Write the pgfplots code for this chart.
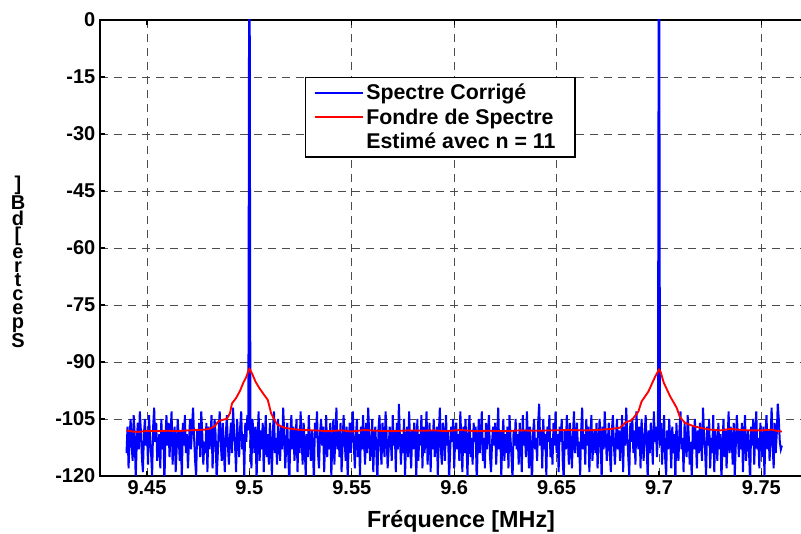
\documentclass[border=0pt]{standalone}
\usepackage{pgfplots}
\usepackage{pgfplotstable}
\pgfplotsset{compat=1.18}
\usepackage{fontspec}
\setmainfont{Liberation Sans}
\pgfplotstableread[row sep=\\]{
x y\\
9.4400 -114\\ 9.4405 -107\\ 9.4410 -118\\ 9.4415 -110\\ 9.4420 -105\\ 9.4425 -112\\ 9.4430 -116\\ 9.4435 -104\\ 9.4440 -109\\ 9.4445 -121\\
9.4450 -111\\ 9.4455 -106\\ 9.4460 -113\\ 9.4465 -103\\ 9.4470 -108\\ 9.4475 -115\\ 9.4480 -119\\ 9.4485 -109\\ 9.4490 -105\\ 9.4495 -112\\
9.4500 -108\\ 9.4505 -117\\ 9.4510 -104\\ 9.4515 -110\\ 9.4520 -114\\ 9.4525 -120\\ 9.4530 -107\\ 9.4535 -102\\ 9.4540 -111\\ 9.4545 -106\\
9.4550 -116\\ 9.4555 -112\\ 9.4560 -109\\ 9.4565 -118\\ 9.4570 -105\\ 9.4575 -113\\ 9.4580 -108\\ 9.4585 -122\\ 9.4590 -110\\ 9.4595 -104\\
9.4600 -112\\ 9.4605 -106\\ 9.4610 -115\\ 9.4615 -109\\ 9.4620 -103\\ 9.4625 -117\\ 9.4630 -111\\ 9.4635 -107\\ 9.4640 -119\\ 9.4645 -113\\
9.4650 -105\\ 9.4655 -110\\ 9.4660 -116\\ 9.4665 -108\\ 9.4670 -121\\ 9.4675 -106\\ 9.4680 -112\\ 9.4685 -104\\ 9.4690 -114\\ 9.4695 -109\\
9.4700 -118\\ 9.4705 -111\\ 9.4710 -105\\ 9.4715 -113\\ 9.4720 -107\\ 9.4725 -102\\ 9.4730 -110\\ 9.4735 -116\\ 9.4740 -120\\ 9.4745 -108\\
9.4750 -112\\ 9.4755 -106\\ 9.4760 -115\\ 9.4765 -103\\ 9.4770 -109\\ 9.4775 -117\\ 9.4780 -111\\ 9.4785 -114\\ 9.4790 -106\\ 9.4795 -119\\
9.4800 -107\\ 9.4805 -113\\ 9.4810 -110\\ 9.4815 -104\\ 9.4820 -118\\ 9.4825 -112\\ 9.4830 -105\\ 9.4835 -109\\ 9.4840 -121\\ 9.4845 -115\\
9.4850 -108\\ 9.4855 -103\\ 9.4860 -111\\ 9.4865 -116\\ 9.4870 -106\\ 9.4875 -113\\ 9.4880 -119\\ 9.4885 -109\\ 9.4890 -104\\ 9.4895 -112\\
9.4900 -117\\ 9.4905 -110\\ 9.4910 -106\\ 9.4915 -114\\ 9.4920 -102\\ 9.4925 -108\\ 9.4930 -112\\ 9.4935 -119\\ 9.4940 -105\\ 9.4945 -111\\
9.4950 -115\\ 9.4955 -107\\ 9.4960 -103\\ 9.4965 -113\\ 9.4970 -109\\ 9.4975 -120\\ 9.4980 -106\\ 9.4985 -111\\ 9.4990 -104\\ 9.4995 -108\\
9.4999 20\\ 9.5001 20\\
9.5005 -112\\ 9.5010 -118\\ 9.5015 -105\\ 9.5020 -109\\ 9.5025 -114\\ 9.5030 -107\\ 9.5035 -121\\ 9.5040 -111\\ 9.5045 -103\\
9.5050 -116\\ 9.5055 -108\\ 9.5060 -113\\ 9.5065 -106\\ 9.5070 -119\\ 9.5075 -110\\ 9.5080 -104\\ 9.5085 -115\\ 9.5090 -109\\ 9.5095 -117\\
9.5100 -106\\ 9.5105 -112\\ 9.5110 -120\\ 9.5115 -108\\ 9.5120 -103\\ 9.5125 -114\\ 9.5130 -110\\ 9.5135 -117\\ 9.5140 -105\\ 9.5145 -111\\
9.5150 -116\\ 9.5155 -107\\ 9.5160 -113\\ 9.5165 -102\\ 9.5170 -109\\ 9.5175 -118\\ 9.5180 -112\\ 9.5185 -106\\ 9.5190 -115\\ 9.5195 -122\\
9.5200 -109\\ 9.5205 -104\\ 9.5210 -113\\ 9.5215 -107\\ 9.5220 -116\\ 9.5225 -111\\ 9.5230 -105\\ 9.5235 -119\\ 9.5240 -108\\ 9.5245 -114\\
9.5250 -103\\ 9.5255 -110\\ 9.5260 -117\\ 9.5265 -106\\ 9.5270 -112\\ 9.5275 -120\\ 9.5280 -109\\ 9.5285 -115\\ 9.5290 -104\\ 9.5295 -111\\
9.5300 -116\\ 9.5305 -108\\ 9.5310 -113\\ 9.5315 -121\\ 9.5320 -106\\ 9.5325 -110\\ 9.5330 -103\\ 9.5335 -114\\ 9.5340 -118\\ 9.5345 -109\\
9.5350 -105\\ 9.5355 -112\\ 9.5360 -107\\ 9.5365 -119\\ 9.5370 -111\\ 9.5375 -104\\ 9.5380 -115\\ 9.5385 -108\\ 9.5390 -113\\ 9.5395 -106\\
9.5400 -120\\ 9.5405 -111\\ 9.5410 -105\\ 9.5415 -117\\ 9.5420 -109\\ 9.5425 -102\\ 9.5430 -113\\ 9.5435 -108\\ 9.5440 -115\\ 9.5445 -106\\
9.5450 -119\\ 9.5455 -112\\ 9.5460 -104\\ 9.5465 -110\\ 9.5470 -116\\ 9.5475 -107\\ 9.5480 -121\\ 9.5485 -111\\ 9.5490 -106\\ 9.5495 -114\\
9.5500 -108\\ 9.5505 -103\\ 9.5510 -112\\ 9.5515 -118\\ 9.5520 -110\\ 9.5525 -105\\ 9.5530 -115\\ 9.5535 -109\\ 9.5540 -120\\ 9.5545 -107\\
9.5550 -113\\ 9.5555 -104\\ 9.5560 -111\\ 9.5565 -117\\ 9.5570 -106\\ 9.5575 -114\\ 9.5580 -102\\ 9.5585 -109\\ 9.5590 -116\\ 9.5595 -112\\
9.5600 -105\\ 9.5605 -119\\ 9.5610 -110\\ 9.5615 -107\\ 9.5620 -114\\ 9.5625 -122\\ 9.5630 -108\\ 9.5635 -104\\ 9.5640 -112\\ 9.5645 -117\\
9.5650 -106\\ 9.5655 -111\\ 9.5660 -115\\ 9.5665 -103\\ 9.5670 -109\\ 9.5675 -118\\ 9.5680 -113\\ 9.5685 -107\\ 9.5690 -110\\ 9.5695 -116\\
9.5700 -104\\ 9.5705 -112\\ 9.5710 -108\\ 9.5715 -119\\ 9.5720 -106\\ 9.5725 -113\\ 9.5730 -101\\ 9.5735 -110\\ 9.5740 -117\\ 9.5745 -109\\
9.5750 -114\\ 9.5755 -105\\ 9.5760 -120\\ 9.5765 -111\\ 9.5770 -107\\ 9.5775 -115\\ 9.5780 -103\\ 9.5785 -112\\ 9.5790 -118\\ 9.5795 -108\\
9.5800 -113\\ 9.5805 -106\\ 9.5810 -110\\ 9.5815 -121\\ 9.5820 -105\\ 9.5825 -116\\ 9.5830 -109\\ 9.5835 -112\\ 9.5840 -104\\ 9.5845 -118\\
9.5850 -107\\ 9.5855 -114\\ 9.5860 -110\\ 9.5865 -103\\ 9.5870 -117\\ 9.5875 -111\\ 9.5880 -106\\ 9.5885 -119\\ 9.5890 -108\\ 9.5895 -113\\
9.5900 -105\\ 9.5905 -115\\ 9.5910 -111\\ 9.5915 -107\\ 9.5920 -120\\ 9.5925 -109\\ 9.5930 -102\\ 9.5935 -113\\ 9.5940 -117\\ 9.5945 -106\\
9.5950 -110\\ 9.5955 -116\\ 9.5960 -104\\ 9.5965 -112\\ 9.5970 -108\\ 9.5975 -121\\ 9.5980 -114\\ 9.5985 -107\\ 9.5990 -111\\ 9.5995 -105\\
9.6000 -118\\ 9.6005 -110\\ 9.6010 -106\\ 9.6015 -113\\ 9.6020 -109\\ 9.6025 -116\\ 9.6030 -103\\ 9.6035 -111\\ 9.6040 -119\\ 9.6045 -107\\
9.6050 -114\\ 9.6055 -105\\ 9.6060 -112\\ 9.6065 -120\\ 9.6070 -108\\ 9.6075 -104\\ 9.6080 -115\\ 9.6085 -110\\ 9.6090 -117\\ 9.6095 -106\\
9.6100 -111\\ 9.6105 -107\\ 9.6110 -122\\ 9.6115 -112\\ 9.6120 -105\\ 9.6125 -114\\ 9.6130 -109\\ 9.6135 -103\\ 9.6140 -116\\ 9.6145 -110\\
9.6150 -118\\ 9.6155 -106\\ 9.6160 -113\\ 9.6165 -108\\ 9.6170 -104\\ 9.6175 -115\\ 9.6180 -119\\ 9.6185 -111\\ 9.6190 -107\\ 9.6195 -112\\
9.6200 -106\\ 9.6205 -117\\ 9.6210 -110\\ 9.6215 -102\\ 9.6220 -113\\ 9.6225 -108\\ 9.6230 -120\\ 9.6235 -111\\ 9.6240 -105\\ 9.6245 -116\\
9.6250 -109\\ 9.6255 -114\\ 9.6260 -107\\ 9.6265 -118\\ 9.6270 -104\\ 9.6275 -110\\ 9.6280 -115\\ 9.6285 -121\\ 9.6290 -108\\ 9.6295 -112\\
9.6300 -105\\ 9.6305 -113\\ 9.6310 -109\\ 9.6315 -117\\ 9.6320 -106\\ 9.6325 -111\\ 9.6330 -119\\ 9.6335 -104\\ 9.6340 -112\\ 9.6345 -108\\
9.6350 -115\\ 9.6355 -103\\ 9.6360 -110\\ 9.6365 -118\\ 9.6370 -107\\ 9.6375 -114\\ 9.6380 -122\\ 9.6385 -109\\ 9.6390 -105\\ 9.6395 -113\\
9.6400 -110\\ 9.6405 -116\\ 9.6410 -106\\ 9.6415 -101\\ 9.6420 -112\\ 9.6425 -108\\ 9.6430 -118\\ 9.6435 -105\\ 9.6440 -113\\ 9.6445 -109\\
9.6450 -120\\ 9.6455 -107\\ 9.6460 -111\\ 9.6465 -104\\ 9.6470 -115\\ 9.6475 -110\\ 9.6480 -117\\ 9.6485 -106\\ 9.6490 -112\\ 9.6495 -103\\
9.6500 -114\\ 9.6505 -109\\ 9.6510 -119\\ 9.6515 -107\\ 9.6520 -111\\ 9.6525 -105\\ 9.6530 -116\\ 9.6535 -121\\ 9.6540 -108\\ 9.6545 -113\\
9.6550 -104\\ 9.6555 -110\\ 9.6560 -117\\ 9.6565 -106\\ 9.6570 -112\\ 9.6575 -118\\ 9.6580 -109\\ 9.6585 -103\\ 9.6590 -114\\ 9.6595 -110\\
9.6600 -106\\ 9.6605 -115\\ 9.6610 -111\\ 9.6615 -120\\ 9.6620 -108\\ 9.6625 -102\\ 9.6630 -113\\ 9.6635 -109\\ 9.6640 -117\\ 9.6645 -105\\
9.6650 -112\\ 9.6655 -107\\ 9.6660 -119\\ 9.6665 -110\\ 9.6670 -104\\ 9.6675 -116\\ 9.6680 -111\\ 9.6685 -108\\ 9.6690 -114\\ 9.6695 -106\\
9.6700 -118\\ 9.6705 -112\\ 9.6710 -105\\ 9.6715 -110\\ 9.6720 -121\\ 9.6725 -107\\ 9.6730 -113\\ 9.6735 -103\\ 9.6740 -109\\ 9.6745 -116\\
9.6750 -111\\ 9.6755 -106\\ 9.6760 -114\\ 9.6765 -119\\ 9.6770 -108\\ 9.6775 -104\\ 9.6780 -112\\ 9.6785 -117\\ 9.6790 -110\\ 9.6795 -105\\
9.6800 -113\\ 9.6805 -108\\ 9.6810 -116\\ 9.6815 -111\\ 9.6820 -104\\ 9.6825 -119\\ 9.6830 -107\\ 9.6835 -112\\ 9.6840 -102\\ 9.6845 -109\\
9.6850 -115\\ 9.6855 -120\\ 9.6860 -106\\ 9.6865 -111\\ 9.6870 -105\\ 9.6875 -114\\ 9.6880 -108\\ 9.6885 -117\\ 9.6890 -103\\ 9.6895 -110\\
9.6900 -113\\ 9.6905 -107\\ 9.6910 -118\\ 9.6915 -105\\ 9.6920 -111\\ 9.6925 -116\\ 9.6930 -109\\ 9.6935 -104\\ 9.6940 -112\\ 9.6945 -121\\
9.6950 -108\\ 9.6955 -114\\ 9.6960 -106\\ 9.6965 -110\\ 9.6970 -117\\ 9.6975 -103\\ 9.6980 -111\\ 9.6985 -107\\ 9.6990 -115\\ 9.6995 -109\\
9.6999 20\\ 9.7001 20\\
9.7005 -112\\ 9.7010 -106\\ 9.7015 -117\\ 9.7020 -110\\ 9.7025 -104\\ 9.7030 -115\\ 9.7035 -120\\ 9.7040 -108\\ 9.7045 -113\\
9.7050 -105\\ 9.7055 -111\\ 9.7060 -118\\ 9.7065 -107\\ 9.7070 -114\\ 9.7075 -109\\ 9.7080 -122\\ 9.7085 -106\\ 9.7090 -112\\ 9.7095 -116\\
9.7100 -108\\ 9.7105 -103\\ 9.7110 -113\\ 9.7115 -110\\ 9.7120 -119\\ 9.7125 -106\\ 9.7130 -112\\ 9.7135 -115\\ 9.7140 -104\\ 9.7145 -109\\
9.7150 -117\\ 9.7155 -111\\ 9.7160 -121\\ 9.7165 -107\\ 9.7170 -113\\ 9.7175 -105\\ 9.7180 -110\\ 9.7185 -118\\ 9.7190 -108\\ 9.7195 -114\\
9.7200 -106\\ 9.7205 -111\\ 9.7210 -116\\ 9.7215 -102\\ 9.7220 -109\\ 9.7225 -113\\ 9.7230 -120\\ 9.7235 -107\\ 9.7240 -112\\ 9.7245 -105\\
9.7250 -118\\ 9.7255 -110\\ 9.7260 -114\\ 9.7265 -104\\ 9.7270 -119\\ 9.7275 -108\\ 9.7280 -111\\ 9.7285 -116\\ 9.7290 -106\\ 9.7295 -113\\
9.7300 -109\\ 9.7305 -121\\ 9.7310 -112\\ 9.7315 -105\\ 9.7320 -115\\ 9.7325 -108\\ 9.7330 -118\\ 9.7335 -111\\ 9.7340 -103\\ 9.7345 -114\\
9.7350 -107\\ 9.7355 -110\\ 9.7360 -117\\ 9.7365 -106\\ 9.7370 -120\\ 9.7375 -112\\ 9.7380 -104\\ 9.7385 -109\\ 9.7390 -115\\ 9.7395 -108\\
9.7400 -113\\ 9.7405 -106\\ 9.7410 -119\\ 9.7415 -110\\ 9.7420 -104\\ 9.7425 -116\\ 9.7430 -111\\ 9.7435 -108\\ 9.7440 -114\\ 9.7445 -122\\
9.7450 -107\\ 9.7455 -112\\ 9.7460 -105\\ 9.7465 -117\\ 9.7470 -109\\ 9.7475 -103\\ 9.7480 -113\\ 9.7485 -110\\ 9.7490 -118\\ 9.7495 -106\\
9.7500 -111\\ 9.7505 -115\\ 9.7510 -107\\ 9.7515 -120\\ 9.7520 -109\\ 9.7525 -104\\ 9.7530 -113\\ 9.7535 -108\\ 9.7540 -116\\ 9.7545 -110\\
9.7550 -102\\ 9.7555 -112\\ 9.7560 -118\\ 9.7565 -106\\ 9.7570 -114\\ 9.7575 -109\\ 9.7580 -101\\ 9.7585 -105\\ 9.7590 -111\\ 9.7595 -113\\
9.7600 -112\\
}\spectre
\pgfplotstableread[row sep=\\]{
x y\\
9.440 -108.0\\ 9.443 -108.3\\ 9.446 -108.4\\ 9.450 -108.1\\ 9.455 -108.2\\ 9.460 -108.1\\ 9.465 -108.2\\ 9.470 -108.0\\
9.475 -107.9\\ 9.478 -107.8\\ 9.481 -107.5\\ 9.483 -106.9\\ 9.485 -105.6\\ 9.487 -105.2\\ 9.489 -105.0\\ 9.4905 -103.5\\
9.4915 -100.9\\ 9.4935 -99.5\\ 9.4955 -97.5\\ 9.497 -95.5\\ 9.4985 -93.9\\ 9.4995 -92.3\\ 9.5 -91.8\\ 9.5005 -92.2\\
9.5016 -93.4\\ 9.503 -95.2\\ 9.5049 -96.9\\ 9.507 -98.5\\ 9.509 -100.0\\ 9.5106 -103.5\\ 9.5125 -105.5\\ 9.5138 -106.5\\
9.5158 -107.0\\ 9.5179 -107.4\\ 9.522 -107.7\\ 9.526 -107.9\\ 9.532 -108.0\\ 9.538 -108.2\\ 9.545 -108.0\\ 9.55 -108.3\\
9.556 -107.9\\ 9.562 -108.1\\ 9.57 -108.2\\ 9.578 -108.0\\ 9.585 -108.1\\ 9.59 -108.0\\ 9.596 -108.2\\ 9.603 -107.9\\
9.61 -108.2\\ 9.617 -108.1\\ 9.625 -108.2\\ 9.632 -108.0\\ 9.64 -108.1\\ 9.648 -108.0\\ 9.656 -107.9\\ 9.665 -108.0\\
9.672 -107.8\\ 9.677 -107.6\\ 9.681 -107.3\\ 9.6839 -105.8\\ 9.686 -105.5\\ 9.6874 -104.8\\ 9.6899 -103.1\\ 9.6915 -100.4\\
9.6948 -97.8\\ 9.698 -94.0\\ 9.6995 -92.5\\ 9.7 -92.0\\ 9.7008 -92.6\\ 9.7023 -95.4\\ 9.7054 -99.0\\ 9.7086 -102.0\\
9.7103 -104.6\\ 9.7127 -106.0\\ 9.7168 -106.9\\ 9.7217 -107.5\\ 9.725 -107.8\\ 9.73 -108.0\\ 9.735 -107.6\\ 9.74 -107.9\\
9.745 -108.0\\ 9.75 -108.0\\ 9.755 -107.8\\ 9.758 -108.2\\ 9.76 -108.3\\
}\fond
\begin{document}
\begin{tikzpicture}
\useasboundingbox (-75pt,-43.5pt) rectangle (525.75pt,357pt);
\begin{axis}[
  scale only axis,
  width=541.5pt, height=342pt,
  at={(0,0)}, anchor=south west,
  xmin=9.42705, xmax=9.7796,
  ymin=-120, ymax=0,
  xtick={9.45,9.5,9.55,9.6,9.65,9.7,9.75},
  xticklabels={9.45,9.5,9.55,9.6,9.65,9.7,9.75},
  ytick={-120,-105,-90,-75,-60,-45,-30,-15,0},
  yticklabels={-120,-105,-90,-75,-60,-45,-30,-15,0},
  tick label style={font=\fontsize{15}{18}\selectfont\bfseries},
  xlabel={Fréquence [MHz]},
  xlabel style={font=\fontsize{17.5}{20}\selectfont\bfseries, yshift=-5pt},
  grid=major,
  major grid style={draw=black!70, line width=0.6pt, dash pattern=on 6pt off 4.5pt},
  axis line style={line width=1.3pt},
  major tick length=4pt,
  tick style={line width=1pt, black},
  clip=true,
  legend cell align=left,
  legend style={at={(rel axis cs:0.284,0.875)}, anchor=north west,
    draw=black, line width=0.9pt, fill=white,
    font=\fontsize{16}{19}\selectfont\bfseries,
    inner xsep=6pt, inner ysep=3pt, row sep=1pt},
  legend image code/.code={\draw[#1, line width=1.3pt] (0pt,0pt) -- (28pt,0pt); \path (0pt,0pt) -- (36pt,0pt);},
]
\addplot[blue, line width=1.5pt] table[x=x, y=y] {\spectre};
\addlegendentry{Spectre Corrigé}
\addplot[red, line width=1.4pt] table[x=x, y=y] {\fond};
\addlegendentry{Fondre de Spectre\hspace*{8pt}}
\addlegendimage{empty legend}
\addlegendentry{Estimé avec n = 11}
\end{axis}
\node[align=center, font=\fontsize{15}{10.5}\selectfont\bfseries, inner sep=0pt] at (-61.5pt,160.5pt) {{]}\\{B}\\{d}\\{[}\\{e}\\{r}\\{t}\\{c}\\{e}\\{p}\\{S}};
\end{tikzpicture}
\end{document}
